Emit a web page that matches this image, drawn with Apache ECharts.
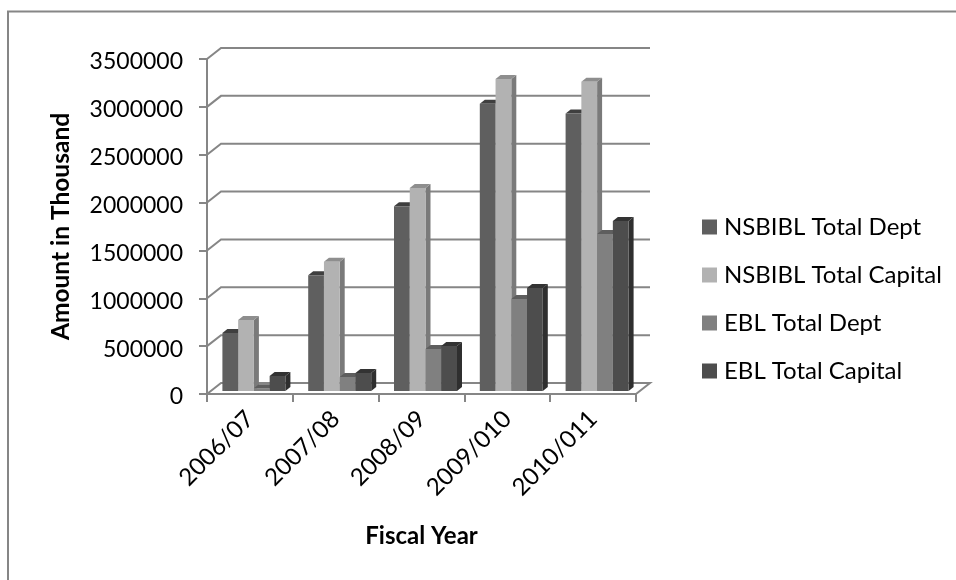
<!DOCTYPE html>
<html>
<head>
<meta charset="utf-8">
<style>html,body{margin:0;padding:0;background:#fff}#chart{width:956px;height:580px}</style>
<script src="https://cdn.jsdelivr.net/npm/echarts@6/dist/echarts.min.js"></script>
</head>
<body>
<div id="chart"></div>
<script>
const categories = ['2006/07', '2007/08', '2008/09', '2009/010', '2010/011'];
const nsbiblDept = [606000, 1210000, 1930000, 3000000, 2900000];
const nsbiblCapital = [742000, 1350000, 2120000, 3260000, 3230000];
const eblDept = [30000, 146000, 439000, 961000, 1640000];
const eblCapital = [157000, 188000, 470000, 1076000, 1776000];
const gridTicks = [0, 500000, 1000000, 1500000, 2000000, 2500000, 3000000, 3500000];

const FONT = 'Lato, "Open Sans", sans-serif';
const AXIS = '#868686';
const WALL_DX = 14, WALL_DY = 11;      // depth of the chart box
const BAR_DX = 5, BAR_DY = 4;          // depth of each bar
const BAR_W = 15.75;

// One 3D column: front face, top face and right side.
function column(index, front, top, side) {
  return function (params, api) {
    const p = api.coord([api.value(0), api.value(1)]);
    const base = api.coord([api.value(0), 0]);
    const x = p[0] + 4 + (index - 2) * BAR_W;
    const yTop = p[1] - 3, yBase = base[1] - 3;
    const xr = x + BAR_W;
    return {
      type: 'group',
      children: [
        { type: 'polygon', shape: { points: [[xr, yTop], [xr + BAR_DX, yTop - BAR_DY], [xr + BAR_DX, yBase - BAR_DY], [xr, yBase]] }, style: { fill: side } },
        { type: 'polygon', shape: { points: [[x, yTop], [x + BAR_DX, yTop - BAR_DY], [xr + BAR_DX, yTop - BAR_DY], [xr, yTop]] }, style: { fill: top } },
        { type: 'rect', shape: { x: x, y: yTop, width: BAR_W, height: yBase - yTop }, style: { fill: front } }
      ]
    };
  };
}

// Back-wall gridlines, carried round the left wall to the front axis.
function wallLine(params, api) {
  const y = api.coord([0, api.value(0)])[1];
  const cs = params.coordSys;
  const pts = [[cs.x, y], [cs.x + WALL_DX, y - WALL_DY], [cs.x + cs.width + WALL_DX, y - WALL_DY]];
  if (api.value(0) === 0) pts.push([cs.x + cs.width, y]);
  return {
    type: 'polyline',
    shape: { points: pts },
    style: { fill: null, stroke: AXIS, lineWidth: 2 }
  };
}

function barSeries(name, values, index, front, top, side) {
  return {
    name: name,
    type: 'custom',
    coordinateSystem: 'cartesian2d',
    renderItem: column(index, front, top, side),
    data: values.map((v, i) => [i, v]),
    encode: { x: 0, y: 1 },
    itemStyle: { color: front },
    clip: false,
    z: 3
  };
}

const chart = echarts.init(document.getElementById('chart'), null, { renderer: 'canvas' });
chart.setOption({
  animation: false,
  backgroundColor: '#fff',
  grid: { left: 207, right: 320, top: 59, bottom: 186 },
  legend: {
    orient: 'vertical',
    left: 702,
    top: 214,
    padding: 0,
    itemWidth: 15,
    itemHeight: 15,
    itemGap: 22,
    icon: 'rect',
    data: ['NSBIBL Total Dept', 'NSBIBL Total Capital', 'EBL Total Dept', 'EBL Total Capital'],
    textStyle: { fontFamily: FONT, fontSize: 24, color: '#000', padding: [0, 0, 0, 2], lineHeight: 26 }
  },
  xAxis: {
    type: 'category',
    data: categories,
    name: 'Fiscal Year',
    nameLocation: 'middle',
    nameGap: 130,
    nameTextStyle: { fontFamily: FONT, fontSize: 24, fontWeight: 'bold', color: '#000' },
    axisLine: { show: true, lineStyle: { color: AXIS, width: 2 } },
    axisTick: { show: true, length: 8, alignWithLabel: false, lineStyle: { color: AXIS, width: 2 } },
    axisLabel: { rotate: 45, margin: 21, fontFamily: FONT, fontSize: 24, color: '#000' },
    splitLine: { show: false }
  },
  yAxis: {
    type: 'value',
    min: 0,
    max: 3500000,
    interval: 500000,
    name: 'Amount in Thousand',
    nameLocation: 'middle',
    nameGap: 133,
    nameTextStyle: { fontFamily: FONT, fontSize: 24.5, fontWeight: 'bold', color: '#000' },
    axisLine: { show: true, lineStyle: { color: AXIS, width: 2 } },
    axisTick: { show: true, length: 8, lineStyle: { color: AXIS, width: 2 } },
    axisLabel: {
      margin: 24,
      color: '#000',
      formatter: (v) => '{n|' + v + '}',
      rich: { n: { fontFamily: FONT, fontSize: 23, color: '#000', padding: [6, 0, 0, 0] } }
    },
    splitLine: { show: false }
  },
  graphic: [
    { type: 'polyline', silent: true, shape: { points: [[8, 580], [8, 11.5], [956, 11.5]] }, style: { fill: null, stroke: AXIS, lineWidth: 2 } }
  ],
  series: [
    {
      type: 'custom',
      coordinateSystem: 'cartesian2d',
      renderItem: wallLine,
      data: gridTicks.map(v => [v]),
      encode: { y: 0 },
      clip: false,
      silent: true,
      z: 1
    },
    barSeries('NSBIBL Total Dept', nsbiblDept, 0, '#5f5f5f', '#3f3f3f', '#4a4a4a'),
    barSeries('NSBIBL Total Capital', nsbiblCapital, 1, '#b2b2b2', '#8e8e8e', '#7a7a7a'),
    barSeries('EBL Total Dept', eblDept, 2, '#808080', '#5e5e5e', '#5a5a5a'),
    barSeries('EBL Total Capital', eblCapital, 3, '#4d4d4d', '#333333', '#2f2f2f')
  ]
});
</script>
</body>
</html>
